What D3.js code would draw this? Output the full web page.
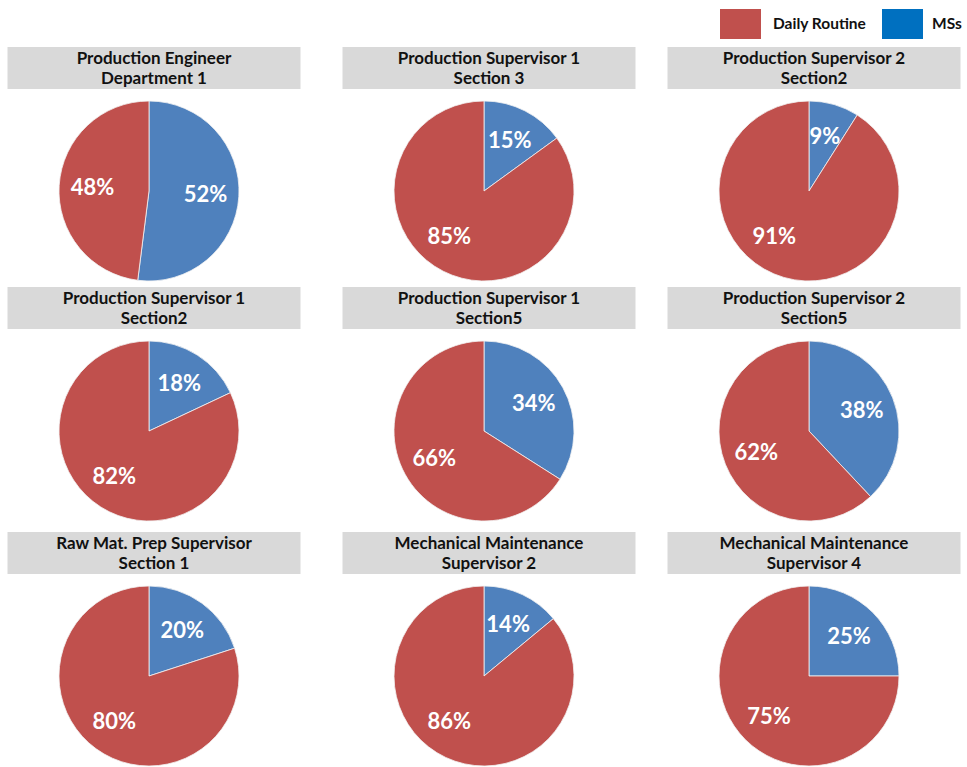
<!DOCTYPE html>
<html>
<head>
<meta charset="utf-8">
<script src="https://cdn.jsdelivr.net/npm/d3@7"></script>
<style>
  body { margin: 0; background: #fff; }
  text { font-family: Lato, "Open Sans", sans-serif; font-weight: bold; }
</style>
</head>
<body>
<div id="chart"></div>
<script>
const titleLine1 = ["Production Engineer", "Production Supervisor 1", "Production Supervisor 2",
  "Production Supervisor 1", "Production Supervisor 1", "Production Supervisor 2",
  "Raw Mat. Prep Supervisor", "Mechanical Maintenance", "Mechanical Maintenance"];
const titleLine2 = ["Department 1", "Section 3", "Section2",
  "Section2", "Section5", "Section5",
  "Section 1", "Supervisor 2", "Supervisor 4"];
const msShare = [52, 15, 9, 18, 34, 38, 20, 14, 25];
const routineShare = [48, 85, 91, 82, 66, 62, 80, 86, 75];
const seriesNames = ["MSs", "Daily Routine"];

const width = 967, height = 767,
  colX = [149, 484, 809],
  rowY = [191, 431, 676],
  radius = 90,
  boxW = 293, boxH = 42;

const sliceColor = d3.scaleOrdinal().domain(seriesNames).range(["#4f81bd", "#c0504d"]);
const legendColor = d3.scaleOrdinal().domain(seriesNames).range(["#0070c0", "#c0504d"]);

const svg = d3.select("#chart").append("svg")
  .attr("width", width)
  .attr("height", height);

const pie = d3.pie().sort(null).value(d => d.value);
const arc = d3.arc().innerRadius(0).outerRadius(radius);

msShare.forEach((ms, i) => {
  const cx = colX[i % 3], cy = rowY[Math.floor(i / 3)];
  const g = svg.append("g").attr("transform", "translate(" + cx + "," + cy + ")");

  // title box
  const top = -radius - 54;
  g.append("rect")
    .attr("x", -boxW / 2 + 5)
    .attr("y", top)
    .attr("width", boxW)
    .attr("height", boxH)
    .attr("fill", "#d9d9d9");
  g.append("text")
    .attr("x", 5).attr("y", top + 17)
    .attr("text-anchor", "middle")
    .style("font-size", "17px")
    .attr("fill", "#111")
    .text(titleLine1[i]);
  g.append("text")
    .attr("x", 5).attr("y", top + 37)
    .attr("text-anchor", "middle")
    .style("font-size", "17px")
    .attr("fill", "#111")
    .text(titleLine2[i]);

  const data = [{ name: "MSs", value: ms }, { name: "Daily Routine", value: routineShare[i] }];
  const arcs = pie(data);

  g.selectAll("path")
    .data(arcs)
    .enter().append("path")
    .attr("d", arc)
    .attr("fill", d => sliceColor(d.data.name))
    .attr("stroke", "#f2f2f2")
    .attr("stroke-width", 0.8);

  g.selectAll(".lbl")
    .data(arcs)
    .enter().append("text")
    .attr("class", "lbl")
    .attr("transform", d => {
      let a = (d.startAngle + d.endAngle) / 2;
      if (d.data.name == "Daily Routine") a = Math.max(a, 3.8);
      const r = 0.63 * radius;
      return "translate(" + (Math.sin(a) * r) + "," + (-Math.cos(a) * r) + ")";
    })
    .attr("text-anchor", "middle")
    .attr("dy", "0.35em")
    .style("font-size", "22px")
    .attr("fill", "#fff")
    .text(d => d.value + "%");
});

// legend
const legendItems = [
  { name: "Daily Routine", x: 720, tx: 773 },
  { name: "MSs", x: 882, tx: 932 }
];
const legend = svg.selectAll(".legend")
  .data(legendItems)
  .enter().append("g")
  .attr("class", "legend");
legend.append("rect")
  .attr("x", d => d.x)
  .attr("y", 9)
  .attr("width", 41)
  .attr("height", 30)
  .attr("fill", d => legendColor(d.name));
legend.append("text")
  .attr("x", d => d.tx)
  .attr("y", 29)
  .style("font-size", "15.5px")
  .attr("fill", "#111")
  .text(d => d.name);
</script>
</body>
</html>
